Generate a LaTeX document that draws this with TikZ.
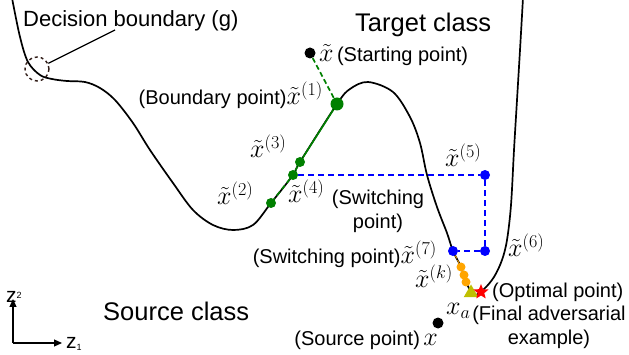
\RequirePackage{fix-cm}
\documentclass[tikz,border=0pt]{standalone}
\usepackage{fontspec}
\setmainfont{Liberation Sans}
\usetikzlibrary{arrows.meta,shapes.geometric}
\definecolor{mgreen}{rgb}{0,0.5,0}
\definecolor{mblue}{rgb}{0,0,1}
\definecolor{morange}{rgb}{1,0.647,0}
\definecolor{molive}{rgb}{0.75,0.75,0}
\definecolor{mred}{rgb}{1,0,0}
\definecolor{cbrown}{RGB}{50,30,25}
\newcommand{\xmath}[1]{{\fontsize{26}{30}\selectfont$#1$}}
\tikzset{
  lab/.style={font=\fontsize{20}{24}\selectfont, inner sep=0pt},
  bigl/.style={font=\fontsize{25.5}{30}\selectfont, inner sep=0pt},
  axl/.style={font=\fontsize{21}{24}\selectfont, inner sep=0pt},
  pdot/.style={circle, fill=black, inner sep=0pt, minimum size=#1},
  gdot/.style={circle, fill=mgreen, inner sep=0pt, minimum size=#1},
  bdot/.style={circle, fill=mblue, inner sep=0pt, minimum size=10pt},
  odot/.style={circle, fill=morange, inner sep=0pt, minimum size=9pt},
  curve/.style={line width=1.7pt, black},
  gline/.style={line width=1.7pt, mgreen},
  gdash/.style={line width=1.7pt, mgreen, dash pattern=on 5pt off 3pt},
  bdash/.style={line width=1.7pt, mblue, dash pattern=on 6pt off 4pt},
  odash/.style={line width=0.8pt, morange, dash pattern=on 3pt off 2pt},
  axis/.style={line width=1.2pt, -{Triangle[length=8pt,width=7pt]}},
}
\begin{document}
\begin{tikzpicture}[x=1pt,y=-1pt]
\useasboundingbox (0,0) rectangle (629,355);
% decision boundary
\draw[curve] plot[smooth, tension=0.55] coordinates {
 (12,-2) (20,37) (28,62) (40,75) (52,79) (67,81) (85,82) (100,88) (115,100)
 (133,123) (150,150) (173,183) (193,210) (213,225) (233,230) (253,225)
 (271,203) (293,175) (300,162) (337,104) (350,89) (368,82) (393,92)
 (410,117) (420,143) (427,175) (437,207) (447,233) (453,251) (461,267)
 (466,282) (474,295) (484,289) (494,277) (502,260) (507,240) (511,205)
 (514,150) (517,100) (520,50) (523,-2)};
% dashed circle and leader
\node[circle, draw=cbrown, dashed, line width=1.4pt, minimum size=24pt, inner sep=0pt] (db) at (37,69) {};
\coordinate (dbt) at (115,30);
\draw[line width=1.3pt] (db) -- (dbt);
\node[lab, font=\fontsize{22}{26}\selectfont, anchor=base west] (dbl) at (23,27) {Decision boundary (g)};
% class labels
\node[bigl, anchor=base west] (tc) at (355,32) {Target class};
\node[bigl, anchor=base west] (sc) at (103,320) {Source class};
% points
\node[pdot=11pt] (s) at (310,53) {};
\node[gdot=13pt] (p1) at (337,104) {};
\node[gdot=10pt] (p3) at (300,162) {};
\node[gdot=10pt] (p4) at (293,175) {};
\node[gdot=10pt] (p2) at (271,203) {};
\node[bdot] (p5) at (485,175) {};
\node[bdot] (p6) at (485,251) {};
\node[bdot] (p7) at (453,251) {};
\node[odot] (k1) at (461,267) {};
\node[odot] (k2) at (464,275) {};
\node[odot] (k3) at (466,282) {};
\node[regular polygon, regular polygon sides=3, fill=molive, inner sep=0pt, minimum size=17pt] (xa) at (471,293) {};
\node[star, star points=5, star point ratio=2.3, fill=mred, inner sep=0pt, minimum size=16pt] (opt) at (481,292) {};
\node[pdot=11pt] (src) at (438,323) {};
% paths
\draw[gdash] (s) -- (p1);
\draw[gline] (p1) -- (p3);
\draw[gdash] (p3) -- (p4);
\draw[gdash] (p4) -- (p2);
\draw[bdash] (p4) -- (p5) -- (p6) -- (p7);
\draw[odash] (p7) -- (k1);
% labels
\node[lab, anchor=base west] (ls) at (319,62) {\xmath{\tilde{x}}\,(Starting point)};
\node[lab, anchor=base east] (l1) at (323,105) {(Boundary point)\xmath{\tilde{x}^{(1)}}};
\node[lab, anchor=base west] (l3) at (250,158) {\xmath{\tilde{x}^{(3)}}};
\node[lab, anchor=base west] (l2) at (217,205) {\xmath{\tilde{x}^{(2)}}};
\node[lab, anchor=base west] (l4) at (288,203) {\xmath{\tilde{x}^{(4)}}};
\node[lab, anchor=north, align=center] (l4t) at (378,190) {(Switching\\point)};
\node[lab, anchor=base west] (l5) at (445,167) {\xmath{\tilde{x}^{(5)}}};
\node[lab, anchor=base west] (l6) at (508,257) {\xmath{\tilde{x}^{(6)}}};
\node[lab, anchor=base east] (l7) at (437,264) {(Switching point)\xmath{\tilde{x}^{(7)}}};
\node[lab, anchor=base west] (lk) at (415,288) {\xmath{\tilde{x}^{(k)}}};
\node[lab, anchor=base west] (lo) at (492,298) {(Optimal point)};
\node[lab, anchor=base west] (lxa) at (446,315) {\xmath{x_a}};
\node[lab, anchor=north, align=center] (lfa) at (549,306) {(Final adversarial\\example)};
\node[lab, anchor=base east] (lsrc) at (438,345) {(Source point)\,\xmath{x}};
% axes
\coordinate (o) at (13,343);
\coordinate (ya) at (13,299);
\coordinate (xe) at (62,343);
\draw[axis] (o) -- (ya);
\draw[axis] (o) -- (xe);
\node[axl, anchor=base west] (z2) at (6,302) {z\raisebox{4pt}{\fontsize{9}{9}\selectfont 2}};
\node[axl, anchor=base west] (z1) at (66,348) {z\raisebox{-2pt}{\fontsize{9}{9}\selectfont 1}};
\end{tikzpicture}
\end{document}
